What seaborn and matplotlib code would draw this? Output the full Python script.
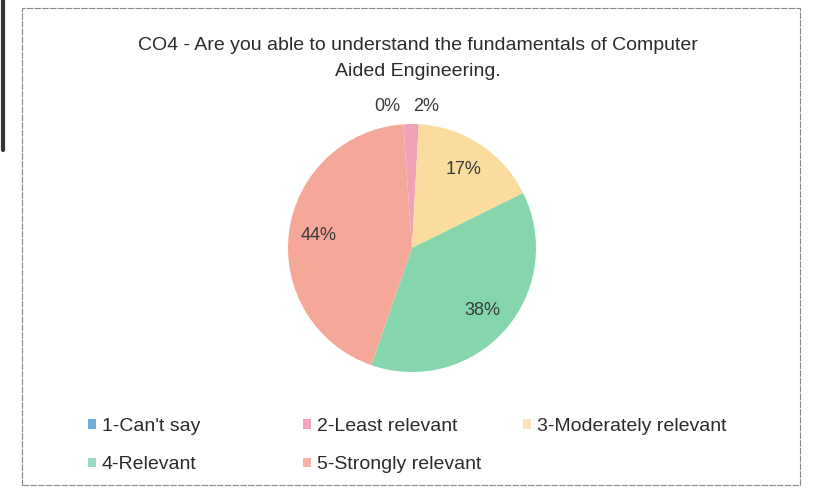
import seaborn as sns
import matplotlib.pyplot as plt
from matplotlib.patches import Rectangle, Patch
from matplotlib.lines import Line2D

sns.set_theme(style="white")
plt.rcParams['font.family'] = ['Liberation Sans', 'DejaVu Sans']

# data
categories = ['1-Can\'t say', '2-Least relevant', '3-Moderately relevant',
              '4-Relevant', '5-Strongly relevant']
percents = [0, 2, 17, 38, 44]
colors = ['#6fb0e0', '#f2a2b6', '#f9dc9e', '#86d6ad', '#f5a898']
legend_colors = ['#6fb0e0', '#f2a2b6', '#f9e3b8', '#9ad8c8', '#f5b4a8']

W, H = 816, 499
fig = plt.figure(figsize=(W / 100, H / 100), dpi=100)

# chart frame
fig.patches.append(Rectangle((22 / W, 1 - 485 / H), 778 / W, 477 / H,
                             transform=fig.transFigure, fill=False,
                             edgecolor='#8a8a8a', linewidth=0.8, linestyle=(0, (6, 1))))
fig.lines.append(Line2D([3 / W, 3 / W], [1, 1 - 150 / H],
                        transform=fig.transFigure, color='#333333', linewidth=3))

fig.text(418 / W, 1 - 45 / H, 'CO4 - Are you able to understand the fundamentals of Computer',
         ha='center', va='center', fontsize=14, color='#2b2b2b')
fig.text(418 / W, 1 - 71 / H, 'Aided Engineering.',
         ha='center', va='center', fontsize=14, color='#2b2b2b')

r = 124
ax = fig.add_axes([(412 - r) / W, (H - 248 - r) / H, 2 * r / W, 2 * r / H])
wedges, texts, autotexts = ax.pie(percents, colors=colors, startangle=94, counterclock=False,
                                  autopct='%1.0f%%', pctdistance=0.76,
                                  wedgeprops=dict(linewidth=0),
                                  textprops=dict(fontsize=13, color='#3a3a3a'))
ax.set_xlim(-1, 1)
ax.set_ylim(-1, 1)
ax.set_aspect('equal')

# small slices get their labels above the pie
autotexts[0].set_position((-0.2, 1.14))
autotexts[1].set_position((0.11, 1.14))
for t in autotexts[:2]:
    t.set_clip_on(False)

handles = [Patch(facecolor=c, edgecolor='none') for c in legend_colors]
# Excel lays the legend out in fixed-width columns
columns = [([0, 3], 88), ([1, 4], 303), ([2], 523)]
for idx, x in columns:
    fig.legend([handles[i] for i in idx], [categories[i] for i in idx],
               loc='upper left', bbox_to_anchor=(x / W, 1 - 418 / H),
               frameon=False, fontsize=14, handlelength=0.4, handleheight=0.4,
               handletextpad=0.3, labelspacing=1.1, borderpad=0, borderaxespad=0,
               labelcolor='#2b2b2b')

fig.savefig('out.png', dpi=100, facecolor='white')
